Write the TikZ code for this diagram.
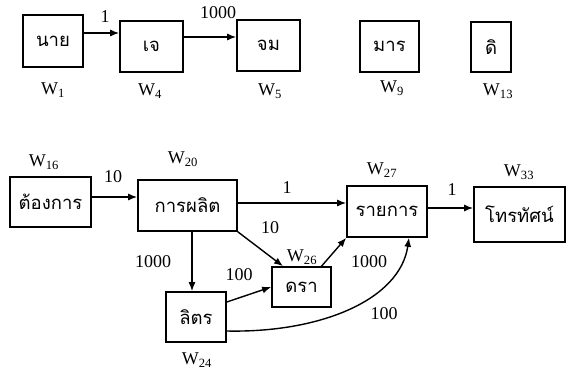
\documentclass[tikz,border=0pt]{standalone}
\usepackage{fontspec}
\setmainfont{Liberation Serif}
\newfontfamily\thaifont[Script=Thai]{Loma}
\usetikzlibrary{arrows.meta}
\tikzset{
  box/.style={draw, line width=1.6pt, inner sep=0pt, font=\thaifont\fontsize{18.5}{20}\selectfont},
  arr/.style={line width=1.4pt, -{Latex[length=9pt,width=7pt]}},
  lbl/.style={font=\fontsize{18}{20}\selectfont, inner sep=0pt},
}
\newcommand{\wl}[1]{W\textsubscript{#1}}
\begin{document}
\begin{tikzpicture}[x=1pt,y=-1pt]
\useasboundingbox[fill=white] (0,0) rectangle (569,369);
% top row
\node[box, minimum width=60pt, minimum height=52pt] (nai) at (53,41) {นาย};
\node[box, minimum width=63pt, minimum height=51pt] (je) at (151.5,46.5) {เจ};
\node[box, minimum width=63pt, minimum height=51pt] (jom) at (268.5,45.5) {จม};
\node[box, minimum width=59pt, minimum height=51pt] (maan) at (389.5,46.5) {มาร};
\node[box, minimum width=40pt, minimum height=50pt] (di) at (491,47) {ดิ};
% bottom
\node[box, minimum width=81pt, minimum height=50pt] (tong) at (50.5,202) {ต้องการ};
\node[box, minimum width=99pt, minimum height=51pt] (plit) at (187.5,205.5) {การผลิต};
\node[box, minimum width=80pt, minimum height=51pt] (rai) at (387,211.5) {รายการ};
\node[box, minimum width=91pt, minimum height=55pt] (tv) at (519.5,214.5) {โทรทัศน์};
\node[box, minimum width=60pt, minimum height=50pt] (lit) at (196,317) {ลิตร};
\node[box, minimum width=59pt, minimum height=40pt] (dra) at (301.5,287) {ดรา};
% arrows
\draw[arr] ([yshift=8pt]nai.east) -- ([yshift=8pt]nai.east -| je.west);
\draw[arr] ([yshift=9.5pt]je.east) -- ([yshift=9.5pt]je.east -| jom.west);
\draw[arr] ([yshift=5pt]tong.east) -- ([yshift=5pt]tong.east -| plit.west);
\draw[arr] ([yshift=2.5pt]plit.east) -- ([yshift=2.5pt]plit.east -| rai.west);
\draw[arr] ([yshift=3.5pt]rai.east) -- ([yshift=3.5pt]rai.east -| tv.west);
\draw[arr] ([xshift=4.5pt]plit.south) -- ([xshift=4.5pt]plit.south |- lit.north);
\draw[arr] (plit.south east) -- ([xshift=-18.5pt]dra.north);
\draw[arr] ([yshift=15pt]lit.east) -- (dra.west);
\draw[arr] ([xshift=20pt]dra.north) -- (rai.south west);
\draw[arr] ([yshift=-14pt]lit.east) .. controls (320,333) and (400,300) .. ([xshift=22pt]rai.south);
% labels
\node[lbl] (l1) at (105,17) {1};
\node[lbl] (l2) at (218,13) {1000};
\node[lbl] (w1) at (53,90) {\wl{1}};
\node[lbl] (w4) at (150,91) {\wl{4}};
\node[lbl] (w5) at (270,91) {\wl{5}};
\node[lbl] (w9) at (392,88) {\wl{9}};
\node[lbl] (w13) at (498,91) {\wl{13}};
\node[lbl] (w16) at (44,162) {\wl{16}};
\node[lbl] (l3) at (113,177) {10};
\node[lbl] (w20) at (183,159) {\wl{20}};
\node[lbl] (l4) at (287,188) {1};
\node[lbl] (w27) at (382,170) {\wl{27}};
\node[lbl] (l5) at (452,190) {1};
\node[lbl] (w33) at (519,172) {\wl{33}};
\node[lbl] (l6) at (270,228) {10};
\node[lbl] (w26) at (302,257) {\wl{26}};
\node[lbl] (l7) at (153,262) {1000};
\node[lbl] (l8) at (239,275) {100};
\node[lbl] (l9) at (369,262) {1000};
\node[lbl] (l10) at (384,314) {100};
\node[lbl] (w24) at (197,360) {\wl{24}};
\end{tikzpicture}
\end{document}
